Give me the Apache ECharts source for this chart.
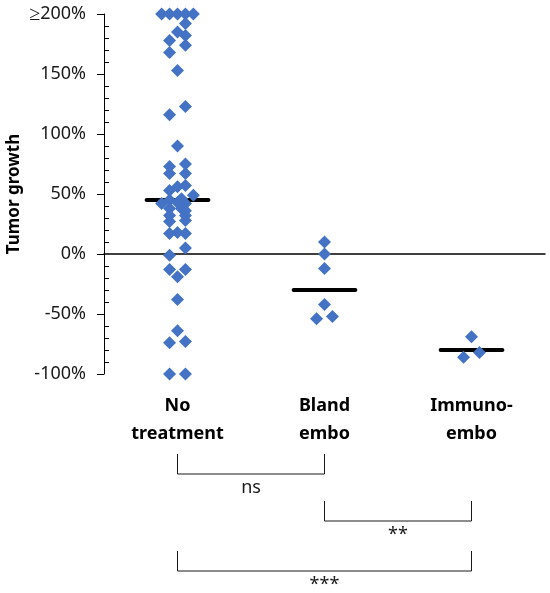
<!DOCTYPE html>
<html>
<head>
<meta charset="utf-8">
<script src="https://cdn.jsdelivr.net/npm/echarts@6/dist/echarts.min.js"></script>
<style>
  html, body { margin: 0; padding: 0; background: #fff; }
  #chart { width: 550px; height: 593px; }
</style>
</head>
<body>
<div id="chart"></div>
<script>
// groups on the x axis
var groups = ['No\ntreatment', 'Bland\nembo', 'Immuno-\nembo'];

// tumor growth (%) per patient, 200 means >=200%
var noTreatment = [200, 200, 200, 200, 200, 192, 185, 182, 178, 174, 168, 153, 123, 116, 90,
    75, 73, 67, 67, 57, 56, 53, 49, 46, 45, 43, 42, 42, 38, 38, 36, 32, 32, 28, 27,
    18, 17, 17, 5, -1, -13, -19, -13, -38, -64, -74, -73, -100, -100];
// swarm column of each point (beeswarm spread)
var noTreatmentCol = [-2, -1, 0, 1, 2, 1, 0, 1, -1, 1, -1, 0, 1, -1, 0,
    1, -1, -1, 1, 1, 0, -1, 2, 0.5, -1, 0, -2, 1, -1, 0.5, 1, -1, 1, 1, -1,
    0, -1, 1, 1, -1, -1, 0, 1, 0, 0, -1, 1, -1, 1];

var blandEmbo = [10, 0, -12, -42, -54, -52];
var blandEmboCol = [0, 0, 0, 0, -1, 1];

var immunoEmbo = [-69, -86, -82];
var immunoEmboCol = [0, -1, 1];

var medians = [45, -30, -80];

// y axis
var yMin = -100, yMax = 200, yStep = 50, yMinorStep = 10;

// significance brackets
var comparisons = [
    {from: 0, to: 1, label: 'ns'},
    {from: 1, to: 2, label: '**'},
    {from: 0, to: 2, label: '***'}
];

var colSpacing = 0.054;
var medianHalf = 0.21;
var font = 'Noto Sans';

function buildPoints() {
    var all = [[noTreatment, noTreatmentCol], [blandEmbo, blandEmboCol], [immunoEmbo, immunoEmboCol]];
    var pts = [];
    for (let g = 0; g < all.length; g++) {
        let vals = all[g][0], cols = all[g][1];
        for (let i = 0; i < vals.length; i++) {
            pts.push([g + cols[i] * colSpacing, vals[i]]);
        }
    }
    return pts;
}

var minorTicks = [];
for (let v = yMin; v <= yMax; v += yMinorStep) {
    if (v % yStep !== 0) minorTicks.push(v);
}

var medianSeries = medians.map(function (m, g) {
    return {
        type: 'line',
        xAxisIndex: 0,
        yAxisIndex: 0,
        data: [[g - medianHalf, m], [g + medianHalf, m]],
        symbol: 'none',
        lineStyle: {color: '#000', width: 4, cap: 'round'},
        z: 2,
        silent: true
    };
});

var chart = echarts.init(document.getElementById('chart'));
var option = {
    animation: false,
    grid: {left: 104, right: 5, top: 14, bottom: 219, outerBoundsMode: 'none', containLabel: false},
    xAxis: [{
        type: 'value',
        min: -0.5,
        max: 2.5,
        axisLine: {onZero: true, lineStyle: {color: '#000', width: 1.5}},
        axisTick: {show: false},
        axisLabel: {show: false},
        splitLine: {show: false}
    }, {
        type: 'category',
        position: 'bottom',
        data: groups,
        axisLine: {show: false, onZero: false},
        axisTick: {show: false},
        axisLabel: {
            margin: 18,
            fontFamily: font,
            fontSize: 18,
            fontWeight: 'bold',
            color: '#000',
            lineHeight: 28
        }
    }],
    yAxis: [{
        type: 'value',
        min: yMin,
        max: yMax,
        interval: yStep,
        name: 'Tumor growth',
        nameLocation: 'middle',
        nameGap: 81,
        nameMoveOverlap: false,
        nameTextStyle: {fontFamily: font, fontSize: 17, fontWeight: 'bold', color: '#000'},
        axisLine: {show: true, onZero: false, lineStyle: {color: '#000', width: 1}},
        axisTick: {show: true, length: 7, lineStyle: {color: '#000'}},
        axisLabel: {
            margin: 18,
            fontFamily: font,
            fontSize: 18,
            color: '#1a1a1a',
            formatter: function (v) {
                return v === yMax ? '{ge|\u2265}' + v + '%' : v + '%';
            },
            rich: {
                ge: {fontFamily: font, fontSize: 20, color: '#1a1a1a'}
            }
        },
        splitLine: {show: false}
    }, {
        type: 'value',
        min: yMin,
        max: yMax,
        position: 'left',
        axisLine: {show: false, onZero: false},
        axisTick: {show: true, inside: true, length: 5, customValues: minorTicks, lineStyle: {color: '#000'}},
        axisLabel: {show: false},
        splitLine: {show: false}
    }],
    series: medianSeries.concat([{
        type: 'scatter',
        xAxisIndex: 0,
        yAxisIndex: 0,
        symbol: 'diamond',
        symbolSize: 13,
        itemStyle: {color: '#4472C4', opacity: 1},
        data: buildPoints(),
        z: 3
    }])
};
chart.setOption(option);

// brackets under the categories
var bracketTop = [454, 501, 551];
var bracketHeight = 20;
var elements = [];
comparisons.forEach(function (c, i) {
    let x1 = chart.convertToPixel({xAxisIndex: 0}, c.from);
    let x2 = chart.convertToPixel({xAxisIndex: 0}, c.to);
    let y1 = bracketTop[i], y2 = y1 + bracketHeight;
    elements.push({
        type: 'polyline',
        shape: {points: [[x1, y1], [x1, y2], [x2, y2], [x2, y1]]},
        style: {stroke: '#1a1a1a', lineWidth: 1, fill: null}
    });
    elements.push({
        type: 'text',
        x: (x1 + x2) / 2,
        y: y2 + 5,
        style: {
            text: c.label,
            fontFamily: font,
            fontSize: 18,
            fill: '#1a1a1a',
            align: 'center',
            verticalAlign: 'top'
        }
    });
});
chart.setOption({graphic: elements});
</script>
</body>
</html>
